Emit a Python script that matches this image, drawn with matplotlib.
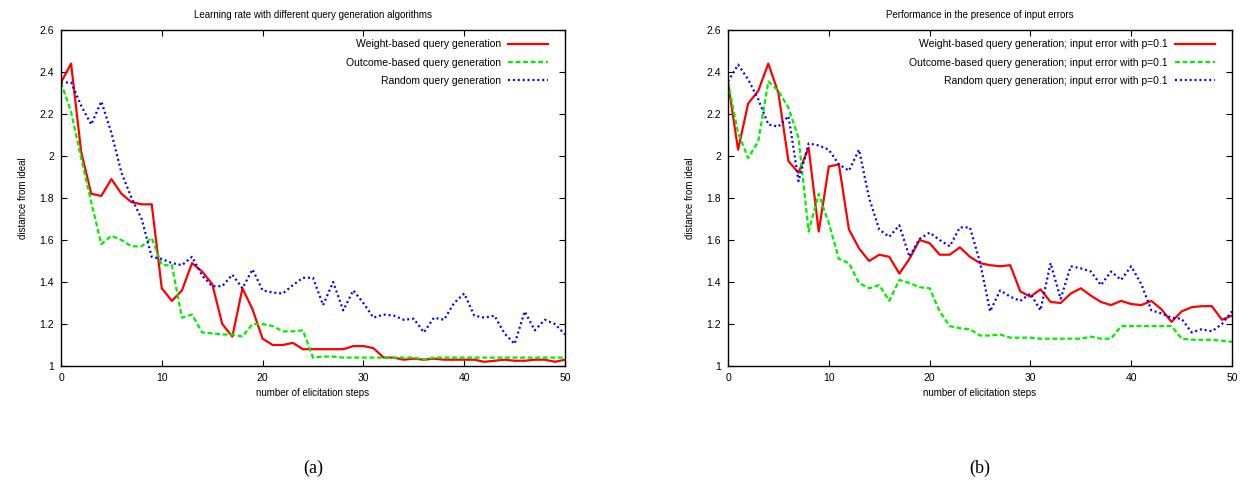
import numpy as np
import matplotlib
matplotlib.use("Agg")
import matplotlib.pyplot as plt
from matplotlib.ticker import FuncFormatter, MultipleLocator

plt.rcParams['font.family'] = ['Liberation Sans', 'DejaVu Sans']

steps = np.arange(51)

# (a) learning rate, no input errors
weight_a = [2.35, 2.44, 2.02, 1.82, 1.81, 1.89, 1.82, 1.78, 1.77, 1.77,
            1.37, 1.31, 1.36, 1.49, 1.45, 1.39, 1.20, 1.14, 1.37, 1.27,
            1.13, 1.10, 1.10, 1.11, 1.08, 1.08, 1.08, 1.08, 1.08, 1.095,
            1.095, 1.085, 1.04, 1.04, 1.03, 1.035, 1.03, 1.035, 1.03, 1.03,
            1.03, 1.03, 1.02, 1.025, 1.03, 1.025, 1.025, 1.03, 1.03, 1.02,
            1.03]
outcome_a = [2.35, 2.21, 1.99, 1.78, 1.58, 1.62, 1.60, 1.57, 1.57, 1.61,
             1.48, 1.48, 1.23, 1.245, 1.16, 1.155, 1.15, 1.15, 1.14, 1.20,
             1.20, 1.19, 1.165, 1.165, 1.17, 1.04, 1.045, 1.045, 1.04, 1.04,
             1.04, 1.04, 1.04, 1.04, 1.04, 1.04, 1.03, 1.04, 1.04, 1.04,
             1.04, 1.04, 1.04, 1.04, 1.04, 1.04, 1.04, 1.04, 1.04, 1.04,
             1.04]
random_a = [2.35, 2.35, 2.24, 2.15, 2.26, 2.11, 1.92, 1.80, 1.70, 1.52,
            1.51, 1.49, 1.48, 1.52, 1.43, 1.38, 1.38, 1.435, 1.37, 1.46,
            1.36, 1.35, 1.345, 1.385, 1.42, 1.42, 1.29, 1.40, 1.265, 1.36,
            1.30, 1.23, 1.245, 1.24, 1.22, 1.225, 1.16, 1.23, 1.22, 1.30,
            1.345, 1.24, 1.23, 1.24, 1.155, 1.105, 1.26, 1.17, 1.22, 1.20,
            1.15]

# (b) with input errors p=0.1
weight_b = [2.35, 2.03, 2.25, 2.31, 2.44, 2.30, 1.975, 1.92, 2.04, 1.64,
            1.95, 1.96, 1.65, 1.56, 1.50, 1.53, 1.52, 1.44, 1.51, 1.60,
            1.585, 1.53, 1.53, 1.565, 1.52, 1.49, 1.48, 1.475, 1.48, 1.355,
            1.33, 1.365, 1.305, 1.30, 1.345, 1.37, 1.335, 1.305, 1.29, 1.31,
            1.295, 1.29, 1.31, 1.27, 1.21, 1.26, 1.28, 1.285, 1.285, 1.22,
            1.24]
outcome_b = [2.35, 2.11, 1.99, 2.07, 2.355, 2.31, 2.23, 2.085, 1.64, 1.82,
             1.68, 1.51, 1.49, 1.395, 1.37, 1.385, 1.31, 1.41, 1.395, 1.375,
             1.37, 1.26, 1.19, 1.18, 1.175, 1.145, 1.145, 1.15, 1.135, 1.135,
             1.135, 1.13, 1.13, 1.13, 1.13, 1.13, 1.14, 1.13, 1.13, 1.19,
             1.19, 1.19, 1.19, 1.19, 1.19, 1.13, 1.125, 1.125, 1.125, 1.12,
             1.115]
random_b = [2.355, 2.435, 2.365, 2.27, 2.15, 2.14, 2.19, 1.88, 2.06, 2.05,
            2.03, 1.96, 1.93, 2.03, 1.80, 1.65, 1.615, 1.67, 1.52, 1.605,
            1.635, 1.60, 1.57, 1.66, 1.66, 1.495, 1.26, 1.36, 1.33, 1.31,
            1.345, 1.265, 1.49, 1.32, 1.475, 1.465, 1.45, 1.385, 1.45, 1.41,
            1.475, 1.39, 1.265, 1.25, 1.23, 1.225, 1.16, 1.175, 1.165, 1.20,
            1.26]

labels_a = ["Weight-based query generation",
            "Outcome-based query generation",
            "Random query generation"]
labels_b = [s + "; input error with p=0.1" for s in labels_a]

W, H = 1242, 482
fig = plt.figure(figsize=(W / 100, H / 100), dpi=100)


def panel(left, series, labels, title, tag):
    ax = fig.add_axes([left / W, (H - 366) / H, 504 / W, 336 / H])
    styles = [dict(color="#ff0000", lw=1.6, ls="-"),
              dict(color="#00ee00", lw=1.6, ls=(0, (2.2, 1.2))),
              dict(color="#0000ff", lw=1.6, ls=(0, (0.9, 1.3)))]
    for y, lab, st in zip(series, labels, styles):
        ax.plot(steps, y, label=lab, **st)
    ax.set_xlim(0, 50)
    ax.set_ylim(1, 2.6)
    ax.xaxis.set_major_locator(MultipleLocator(10))
    ax.yaxis.set_major_locator(MultipleLocator(0.2))
    ax.yaxis.set_major_formatter(FuncFormatter(lambda v, p: "%g" % round(v, 2)))
    ax.tick_params(direction="in", top=True, right=True, length=4,
                   width=0.8, labelsize=7.5, pad=5)
    for sp in ax.spines.values():
        sp.set_linewidth(1.0)
    ax.set_title(title, fontsize=7, pad=9)
    ax.set_xlabel("number of elicitation steps", fontsize=7, labelpad=4)
    ax.set_ylabel("distance from ideal", fontsize=7, labelpad=8)
    ax.legend(loc="upper right", bbox_to_anchor=(1 - 7 / 504, 1.003),
              frameon=False, markerfirst=False,
              fontsize=7.5, handlelength=3.8, handletextpad=0.7,
              labelspacing=0.8, borderaxespad=0.6)
    fig.text((left + 252) / W, 1 - 468 / H, tag, ha="center", va="center",
             fontsize=13, family="Liberation Serif")
    return ax


panel(61, [weight_a, outcome_a, random_a], labels_a,
      "Learning rate with different query generation algorithms", "(a)")
panel(728, [weight_b, outcome_b, random_b], labels_b,
      "Performance in the presence of input errors", "(b)")

fig.savefig("out.png", dpi=100)
